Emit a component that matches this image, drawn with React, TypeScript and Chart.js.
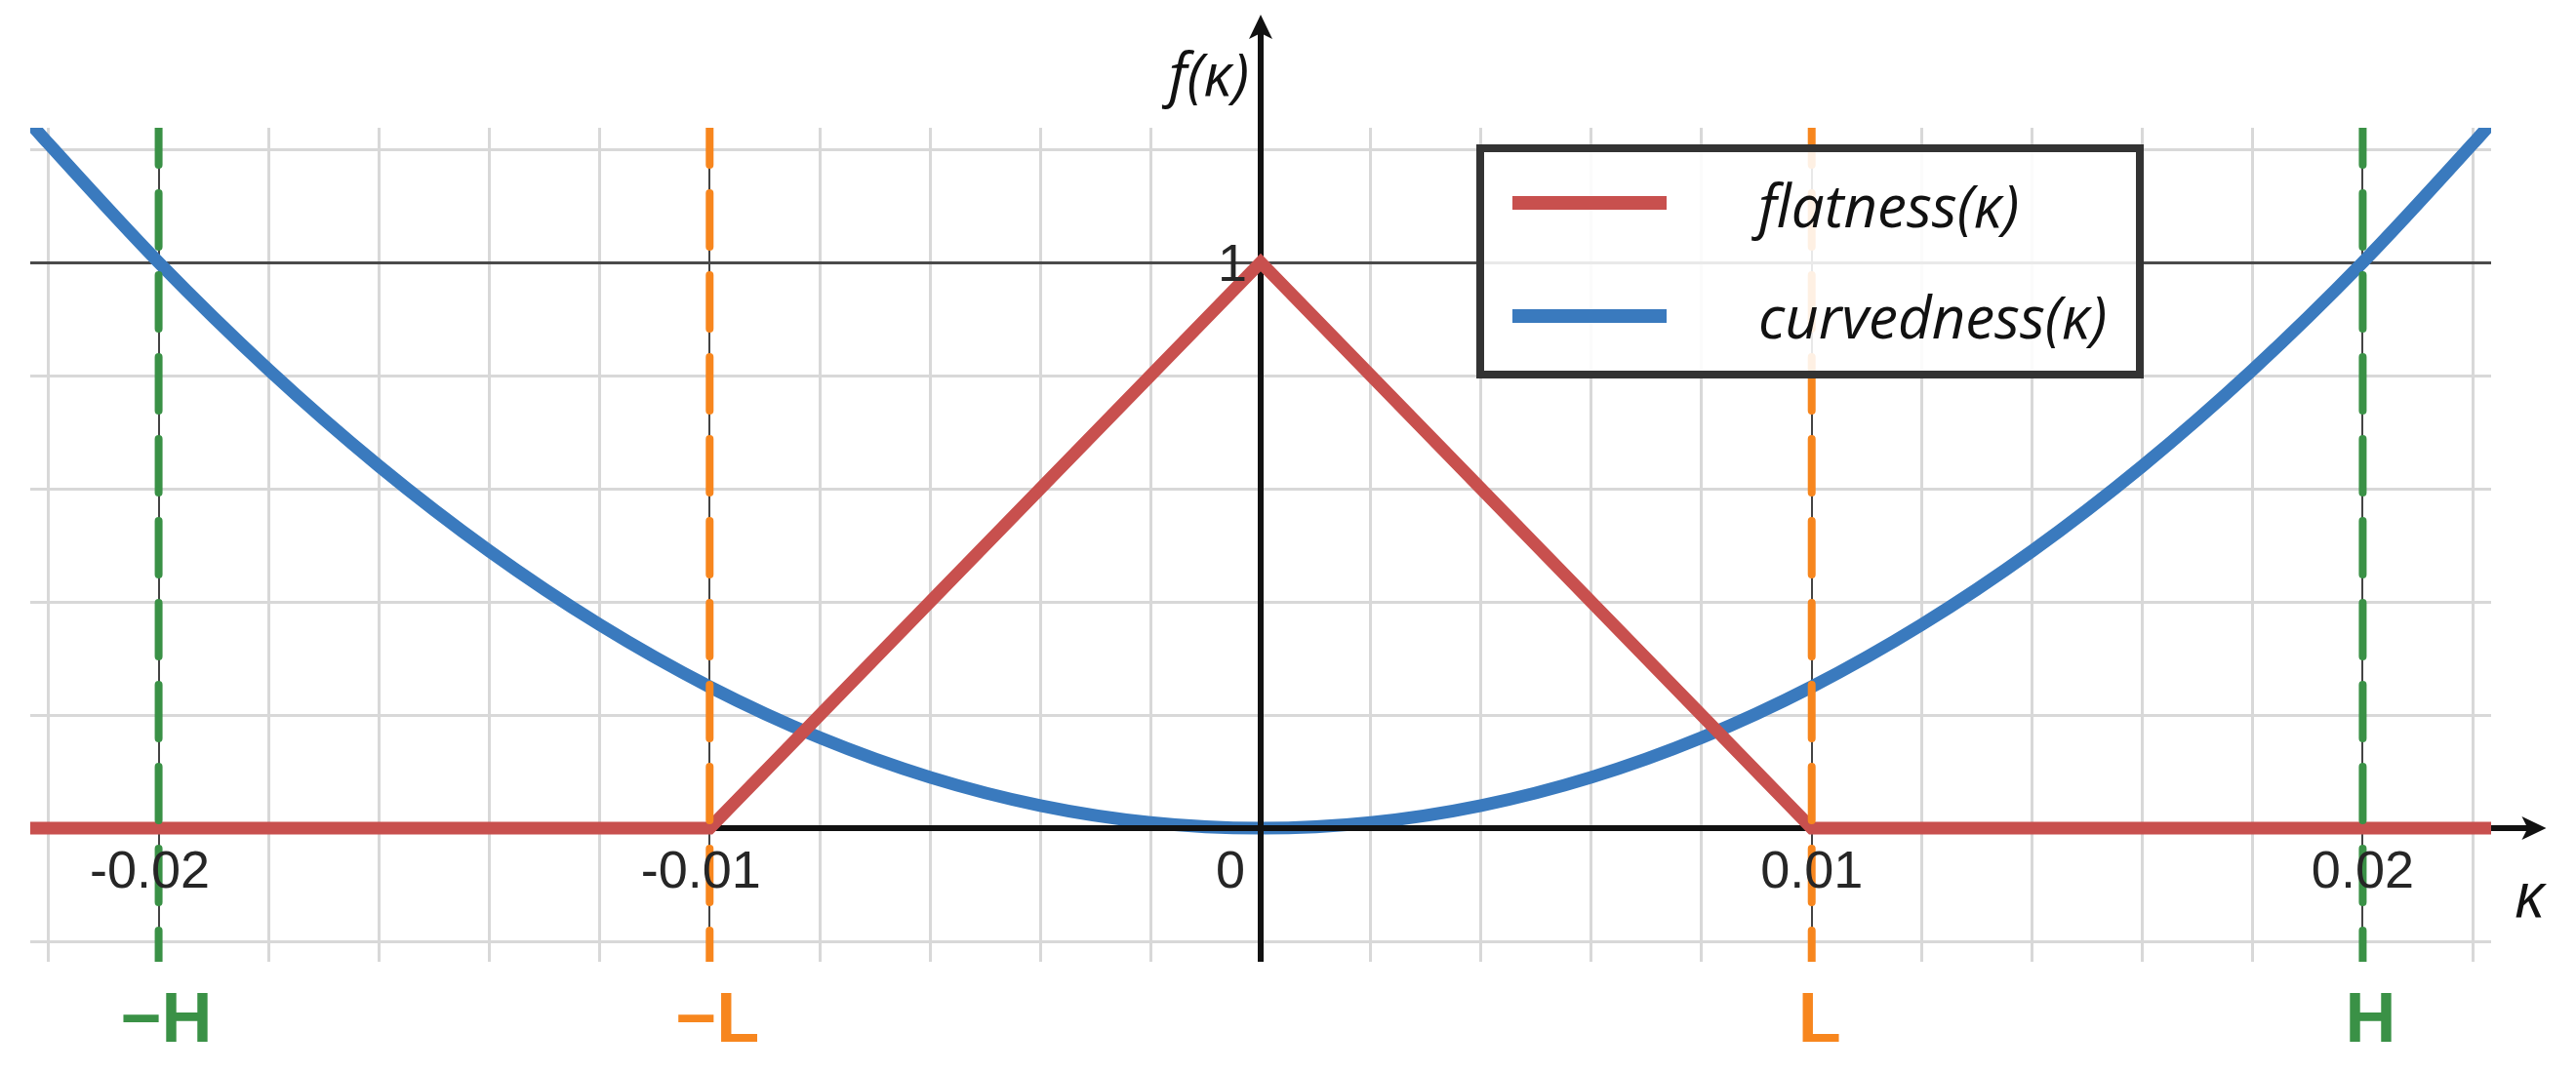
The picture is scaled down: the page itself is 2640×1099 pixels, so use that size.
import React, { useEffect, useRef } from 'react';
import { Chart, registerables } from 'chart.js';

Chart.register(...registerables);

// ---------- data ----------
const X_MIN = -0.02233;
const X_MAX = 0.02233;
const Y_MIN = -0.236;
const Y_MAX = 1.238;
const X_ARROW_TIP = 0.02333;
const Y_ARROW_TIP = 1.438;

const curveKappa = [
  -0.02233, -0.022, -0.02, -0.018, -0.016, -0.014, -0.012, -0.01, -0.008, -0.006, -0.004, -0.002,
  0, 0.002, 0.004, 0.006, 0.008, 0.01, 0.012, 0.014, 0.016, 0.018, 0.02, 0.022, 0.02233,
];
const curvednessValues = [
  1.246, 1.21, 1.0, 0.81, 0.64, 0.49, 0.36, 0.25, 0.16, 0.09, 0.04, 0.01,
  0, 0.01, 0.04, 0.09, 0.16, 0.25, 0.36, 0.49, 0.64, 0.81, 1.0, 1.21, 1.246,
];

const flatKappa = [-0.02233, -0.01, 0, 0.01, 0.02233];
const flatnessValues = [0, 0, 1, 0, 0];

const markerKappa = [-0.02, -0.01, 0.01, 0.02];
const markerLabels = ['\u2212H', '\u2212L', 'L', 'H'];

const xTickValues = [-0.02, -0.01, 0, 0.01, 0.02];
const xTickLabels = ['-0.02', '-0.01', '0', '0.01', '0.02'];
const yTickValues = [1];
const yTickLabels = ['1'];

const xGridValues = [
  -0.022, -0.02, -0.018, -0.016, -0.014, -0.012, -0.01, -0.008, -0.006, -0.004, -0.002,
  0, 0.002, 0.004, 0.006, 0.008, 0.01, 0.012, 0.014, 0.016, 0.018, 0.02, 0.022,
];
const yGridValues = [-0.2, 0, 0.2, 0.4, 0.6, 0.8, 1, 1.2];

const seriesNames = ['flatness(\u03BA)', 'curvedness(\u03BA)'];

// ---------- style ----------
const RED = '#C8504E';
const BLUE = '#3A7ABE';
const ORANGE = '#F7861E';
const GREEN = '#3A9146';
const markerColors = [GREEN, ORANGE, ORANGE, GREEN];
const GRID = '#d8d8d8';
const AXIS = '#111111';

const near = (a: number, b: number) => Math.abs(a - b) < 1e-9;

function drawAxes(chart: any) {
  const { ctx, chartArea, scales } = chart;
  const xs = scales.x;
  const ys = scales.y;
  const x0 = xs.getPixelForValue(0);
  const y0 = ys.getPixelForValue(0);
  const xTip = xs.getPixelForValue(X_ARROW_TIP);
  const yTip = ys.getPixelForValue(Y_ARROW_TIP);
  ctx.save();
  ctx.strokeStyle = AXIS;
  ctx.fillStyle = AXIS;
  ctx.lineWidth = 6;
  ctx.lineCap = 'butt';
  // x axis
  ctx.beginPath();
  ctx.moveTo(chartArea.left, y0);
  ctx.lineTo(xTip - 16, y0);
  ctx.stroke();
  ctx.beginPath();
  ctx.moveTo(xTip, y0);
  ctx.lineTo(xTip - 25, y0 - 12);
  ctx.lineTo(xTip - 19, y0);
  ctx.lineTo(xTip - 25, y0 + 12);
  ctx.closePath();
  ctx.fill();
  // y axis
  ctx.beginPath();
  ctx.moveTo(x0, chartArea.bottom);
  ctx.lineTo(x0, yTip + 16);
  ctx.stroke();
  ctx.beginPath();
  ctx.moveTo(x0, yTip);
  ctx.lineTo(x0 - 12, yTip + 25);
  ctx.lineTo(x0, yTip + 19);
  ctx.lineTo(x0 + 12, yTip + 25);
  ctx.closePath();
  ctx.fill();
  ctx.restore();
}

function drawLabels(chart: any) {
  const { ctx, scales } = chart;
  const xs = scales.x;
  const ys = scales.y;
  const x0 = xs.getPixelForValue(0);
  const y0 = ys.getPixelForValue(0);
  ctx.save();
  // x tick labels
  ctx.font = '54px "Liberation Sans", Arial, sans-serif';
  ctx.fillStyle = '#262626';
  ctx.textBaseline = 'alphabetic';
  xTickValues.forEach((v, i) => {
    const txt = xTickLabels[i];
    const px = xs.getPixelForValue(v);
    if (v === 0) {
      ctx.textAlign = 'right';
      ctx.fillText(txt, x0 - 16, y0 + 61);
      return;
    }
    const core = txt.replace('-', '');
    const w = ctx.measureText(core).width;
    ctx.textAlign = 'right';
    ctx.fillText(txt, px + w / 2, y0 + 61);
  });
  // y tick labels
  yTickValues.forEach((v, i) => {
    ctx.textAlign = 'right';
    ctx.fillText(yTickLabels[i], x0 - 14, ys.getPixelForValue(v) + 19);
  });
  // marker letters
  ctx.font = 'bold 72px "Liberation Sans", Arial, sans-serif';
  ctx.textAlign = 'center';
  markerKappa.forEach((v, i) => {
    ctx.fillStyle = markerColors[i];
    ctx.fillText(markerLabels[i], xs.getPixelForValue(v) + 8, 1068);
  });
  // axis titles
  ctx.fillStyle = '#111';
  ctx.font = 'italic 60px "Open Sans", sans-serif';
  ctx.textAlign = 'right';
  ctx.fillText('f(\u03BA)', x0 - 12, 98);
  ctx.font = 'italic 64px "Open Sans", sans-serif';
  ctx.textAlign = 'center';
  ctx.fillText('\u03BA', xs.getPixelForValue(X_ARROW_TIP) - 17, y0 + 91);
  ctx.restore();
}

function drawLegend(chart: any) {
  const { ctx } = chart;
  const left = 1513;
  const top = 148;
  const right = 2197;
  const bottom = 388;
  ctx.save();
  ctx.fillStyle = 'rgba(255,255,255,0.88)';
  ctx.fillRect(left, top, right - left, bottom - top);
  ctx.strokeStyle = '#333333';
  ctx.lineWidth = 8;
  ctx.strokeRect(left + 4, top + 4, right - left - 8, bottom - top - 8);
  const rows = [
    { y: 208, color: RED, base: 233 },
    { y: 324, color: BLUE, base: 347 },
  ];
  let size = 58;
  ctx.font = `italic ${size}px "Open Sans", sans-serif`;
  const w = ctx.measureText(seriesNames[1]).width;
  size = Math.round((size * 356) / w);
  ctx.font = `italic ${size}px "Open Sans", sans-serif`;
  rows.forEach((r, i) => {
    ctx.strokeStyle = r.color;
    ctx.lineWidth = 14;
    ctx.lineCap = 'butt';
    ctx.beginPath();
    ctx.moveTo(1550, r.y);
    ctx.lineTo(1708, r.y);
    ctx.stroke();
    ctx.fillStyle = '#111';
    ctx.textAlign = 'left';
    ctx.textBaseline = 'alphabetic';
    ctx.fillText(seriesNames[i], 1802, r.base);
  });
  ctx.restore();
}

const overlayPlugin = {
  id: 'overlay',
  afterDatasetDraw(chart: any, args: any) {
    if (args.index === 1) drawAxes(chart);
  },
  afterDraw(chart: any) {
    drawLabels(chart);
    drawLegend(chart);
  },
};

export default function App() {
  const canvasRef = useRef<HTMLCanvasElement | null>(null);

  useEffect(() => {
    document.body.style.margin = '0';
    const canvas = canvasRef.current;
    if (!canvas) return;

    const dashedSets = markerKappa.map((k, i) => ({
      label: markerLabels[i],
      data: [
        { x: k, y: Y_MAX },
        { x: k, y: Y_MIN },
      ],
      showLine: true,
      borderColor: markerColors[i],
      borderWidth: 8,
      borderDash: [55, 29],
      borderDashOffset: 17,
      borderCapStyle: 'round',
      pointRadius: 0,
      tension: 0,
      clip: 0,
      order: 1,
    }));

    const chart = new Chart(canvas, {
      type: 'scatter',
      data: {
        datasets: [
          {
            label: seriesNames[0],
            data: flatKappa.map((k, i) => ({ x: k, y: flatnessValues[i] })),
            showLine: true,
            borderColor: RED,
            borderWidth: 13,
            borderJoinStyle: 'miter',
            borderCapStyle: 'butt',
            pointRadius: 0,
            tension: 0,
            clip: 0,
            order: 2,
          },
          {
            label: seriesNames[1],
            data: curveKappa.map((k, i) => ({ x: k, y: curvednessValues[i] })),
            showLine: true,
            borderColor: BLUE,
            borderWidth: 13,
            pointRadius: 0,
            cubicInterpolationMode: 'monotone',
            clip: 0,
            order: 3,
          },
          ...dashedSets,
        ] as any,
      },
      options: {
        responsive: false,
        animation: false,
        devicePixelRatio: 1,
        layout: { padding: { left: 31, right: 87, top: 131, bottom: 113 } },
        plugins: {
          legend: { display: false },
          tooltip: { enabled: false },
        },
        events: [],
        scales: {
          x: {
            type: 'linear',
            min: X_MIN,
            max: X_MAX,
            afterBuildTicks: (s: any) => {
              s.ticks = xGridValues.map((v) => ({ value: v }));
            },
            ticks: { display: false },
            border: { display: false },
            grid: {
              drawTicks: false,
              color: (c: any) => {
                const v = c.tick ? c.tick.value : 1;
                if (near(v, 0)) return 'rgba(0,0,0,0)';
                if (near(Math.abs(v), 0.01) || near(Math.abs(v), 0.02)) return '#444444';
                return GRID;
              },
              lineWidth: (c: any) => {
                const v = c.tick ? c.tick.value : 1;
                if (near(Math.abs(v), 0.01) || near(Math.abs(v), 0.02)) return 2;
                return 3;
              },
            },
          },
          y: {
            type: 'linear',
            min: Y_MIN,
            max: Y_MAX,
            afterBuildTicks: (s: any) => {
              s.ticks = yGridValues.map((v) => ({ value: v }));
            },
            ticks: { display: false },
            border: { display: false },
            grid: {
              drawTicks: false,
              color: (c: any) => {
                const v = c.tick ? c.tick.value : 0.5;
                if (near(v, 0)) return 'rgba(0,0,0,0)';
                if (near(v, 1)) return '#4a4a4a';
                return GRID;
              },
              lineWidth: 3,
            },
          },
        },
      } as any,
      plugins: [overlayPlugin],
    });

    return () => {
      chart.destroy();
    };
  }, []);

  return (
    <div style={{ width: 2640, height: 1099, background: '#ffffff' }}>
      <canvas ref={canvasRef} width={2640} height={1099} style={{ display: 'block' }} />
    </div>
  );
}
